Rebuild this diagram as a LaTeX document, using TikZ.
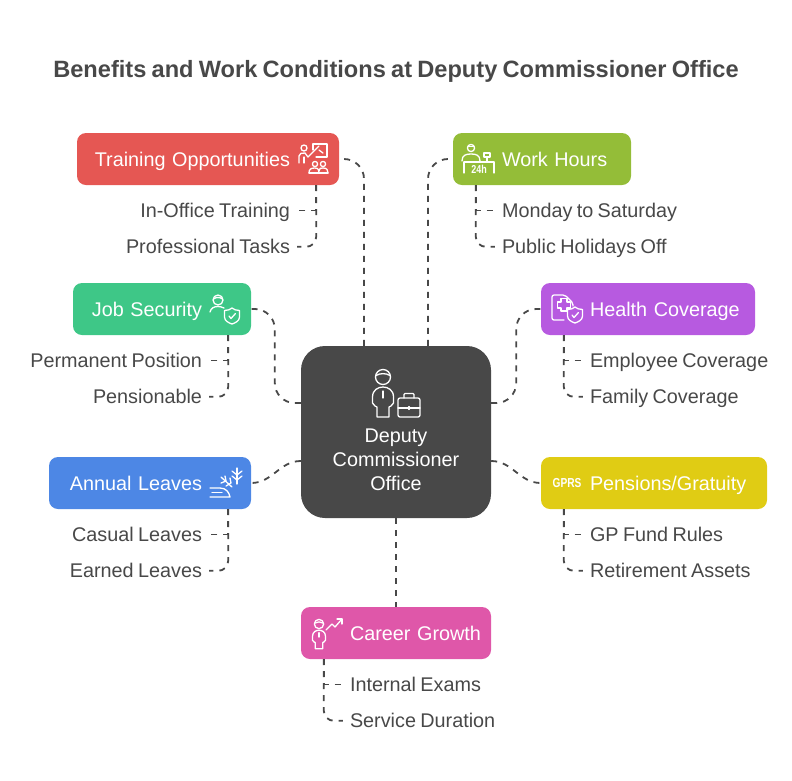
\documentclass[tikz,border=0pt]{standalone}
\usepackage{fontspec}
\setmainfont[WordSpace=0.8]{Liberation Sans}
\newfontfamily\iconfont[FakeStretch=0.78]{Liberation Sans}
\usetikzlibrary{positioning}

\definecolor{darkgrey}{HTML}{484848}
\definecolor{trainred}{HTML}{E55753}
\definecolor{hoursgreen}{HTML}{94BD38}
\definecolor{jobgreen}{HTML}{3EC787}
\definecolor{healthpurple}{HTML}{B75AE0}
\definecolor{leavesblue}{HTML}{4D87E5}
\definecolor{pensionyellow}{HTML}{E0CC14}
\definecolor{careerpink}{HTML}{DF57A9}

\tikzset{
  mainbox/.style={rounded corners=9pt, text=white, inner xsep=0pt, inner ysep=0pt, text width=#1,
    text height=17pt, text depth=3pt, minimum height=52pt, font=\fontsize{19.8}{24}\selectfont},
  leftbox/.style={mainbox=#1, align=right, execute at end node=\hspace*{49pt}},
  rightbox/.style={mainbox=#1, align=left, execute at begin node=\hspace*{49pt}},
  sublabel/.style={text=darkgrey, inner xsep=7pt, inner ysep=0pt, text height=17pt, text depth=3pt,
    font=\fontsize{19.8}{24}\selectfont},
  link/.style={draw=darkgrey, line width=1.8pt, dash pattern=on 6pt off 6pt},
  bend/.style={link, rounded corners=#1},
  icon/.style={draw=white, line width=1.3pt, line cap=round, line join=round},
  person/.pic={
    \draw[icon] (0,0) circle (7.5);
    \draw[icon] (-7,-1.5) .. controls (-3,-4) and (3,-4) .. (7,-1.5);
    \draw[icon] (-6,40) -- (-6,30) -- (-8,29) -- (-10.5,26) -- (-10.5,20) .. controls (-10.5,13) and (-5,10) .. (0,10)
      .. controls (5,10) and (10.5,13) .. (10.5,20) -- (10.5,26) -- (8,29) -- (6,30) -- (6,40) -- cycle;
    \draw[icon] (0,14) -- (0,21);
  },
  shield/.pic={
    \draw[icon] (0,-8) .. controls (-2,-6.5) and (-4,-5.5) .. (-7.5,-5.5) -- (-7.5,1) .. controls (-7.5,5) and (-3,7) .. (0,8)
      .. controls (3,7) and (7.5,5) .. (7.5,1) -- (7.5,-5.5) .. controls (4,-5.5) and (2,-6.5) .. (0,-8) -- cycle;
    \draw[icon] (-3,0) -- (-1,2.5) -- (3.5,-2.5);
  }
}

\begin{document}
\begin{tikzpicture}[x=1pt, y=-1pt]
\useasboundingbox (0,0) rectangle (792,780);

\node[text=darkgrey, font=\fontsize{23.6}{28}\selectfont\bfseries] (title) at (396,71) {Benefits and Work Conditions at Deputy Commissioner Office};

\node[fill=darkgrey, rounded corners=24pt, text=white, minimum width=190pt, minimum height=172pt, inner sep=0pt,
  align=center, font=\fontsize{19.8}{24}\selectfont] (office) at (396,432) {\rule{0pt}{69pt}Deputy\\Commissioner\\Office};

\node[leftbox=262pt, fill=trainred] (training) at (208,159) {Training Opportunities};
\node[rightbox=178pt, fill=hoursgreen] (workhours) at (542,159) {Work Hours};
\node[leftbox=178pt, fill=jobgreen] (jobsec) at (162,309) {Job Security};
\node[rightbox=214pt, fill=healthpurple] (health) at (648,309) {Health Coverage};
\node[leftbox=202pt, fill=leavesblue] (leaves) at (150,483) {Annual Leaves};
\node[rightbox=226pt, fill=pensionyellow] (pensions) at (654,483) {Pensions/Gratuity};
\node[rightbox=190pt, fill=careerpink] (career) at (396,633) {Career Growth};

\node[sublabel, below left=15pt and 42pt of training.south east] (inoffice) {In-Office Training};
\node[sublabel, below left=16pt and 0pt of inoffice.south east] (protasks) {Professional Tasks};
\node[sublabel, below right=15pt and 42pt of workhours.south west] (monsat) {Monday to Saturday};
\node[sublabel, below right=16pt and 0pt of monsat.south west] (holidays) {Public Holidays Off};
\node[sublabel, below left=15pt and 42pt of jobsec.south east] (permanent) {Permanent Position};
\node[sublabel, below left=16pt and 0pt of permanent.south east] (pensionable) {Pensionable};
\node[sublabel, below right=15pt and 42pt of health.south west] (employee) {Employee Coverage};
\node[sublabel, below right=16pt and 0pt of employee.south west] (family) {Family Coverage};
\node[sublabel, below left=15pt and 42pt of leaves.south east] (casual) {Casual Leaves};
\node[sublabel, below left=16pt and 0pt of casual.south east] (earned) {Earned Leaves};
\node[sublabel, below right=15pt and 42pt of pensions.south west] (gpfund) {GP Fund Rules};
\node[sublabel, below right=16pt and 0pt of gpfund.south west] (retirement) {Retirement Assets};
\node[sublabel, below right=15pt and 42pt of career.south west] (exams) {Internal Exams};
\node[sublabel, below right=16pt and 0pt of exams.south west] (service) {Service Duration};

\draw[bend=20pt] ([xshift=-32pt]office.north) |- (training.east);
\draw[bend=20pt] ([xshift=32pt]office.north) |- (workhours.west);
\draw[bend=20pt] ([yshift=29pt]office.west) -- ++(-26,0) |- (jobsec.east);
\draw[bend=20pt] ([yshift=29pt]office.east) -- ++(25,0) |- (health.west);
\draw[link] ([yshift=-29pt]office.west) to[out=180, in=0] (leaves.east);
\draw[link] ([yshift=-29pt]office.east) to[out=0, in=180] (pensions.west);
\draw[link] (office.south) -- (career.north);

\draw[link] ([xshift=-23pt]training.south east) |- (inoffice.east);
\draw[bend=10pt] ([xshift=-23pt]training.south east) |- (protasks.east);
\draw[link] ([xshift=23pt]workhours.south west) |- (monsat.west);
\draw[bend=10pt] ([xshift=23pt]workhours.south west) |- (holidays.west);
\draw[link] ([xshift=-23pt]jobsec.south east) |- (permanent.east);
\draw[bend=10pt] ([xshift=-23pt]jobsec.south east) |- (pensionable.east);
\draw[link] ([xshift=23pt]health.south west) |- (employee.west);
\draw[bend=10pt] ([xshift=23pt]health.south west) |- (family.west);
\draw[link] ([xshift=-23pt]leaves.south east) |- (casual.east);
\draw[bend=10pt] ([xshift=-23pt]leaves.south east) |- (earned.east);
\draw[link] ([xshift=23pt]pensions.south west) |- (gpfund.west);
\draw[bend=10pt] ([xshift=23pt]pensions.south west) |- (retirement.west);
\draw[link] ([xshift=23pt]career.south west) |- (exams.west);
\draw[bend=10pt] ([xshift=23pt]career.south west) |- (service.west);

% office icon
\pic at (383,377) {person};
\draw[icon, rounded corners=2pt] (398,398) rectangle (420,417);
\draw[icon, rounded corners=1pt] (404,398) -- (404,393.5) -- (414,393.5) -- (414,398);
\draw[icon] (398,408) -- (420,408);
\draw[icon] (409,406.5) -- (409,409.5);

% training icon
\draw[icon] (304,148) circle (3);
\draw[icon] (299,163) -- (299,156) .. controls (299,153) and (302,153) .. (305,153) -- (308,157) -- (319,146);
\draw[icon] (304,157) -- (304,163);
\draw[icon] (313,150) -- (313,144) -- (327,144) -- (327,157) -- (316,157);
\draw[icon] (319,150) -- (323,153);
\draw[icon] (315,164) circle (2.6);
\draw[icon] (323,164) circle (2.6);
\draw[icon] (309,173) .. controls (309,169) and (311,168) .. (315,168) .. controls (319,168) and (319,171) .. (319,173);
\draw[icon] (319,171) .. controls (319,168) and (321,168) .. (323,168) .. controls (327,168) and (328,170) .. (328,173);
\draw[icon] (309,173) -- (328,173);

% work hours icon
\draw[icon] (471,148) circle (3.6);
\draw[icon] (468,146.5) -- (474,146.5);
\draw[icon] (462,161) .. controls (462,155) and (466,154) .. (471,154) .. controls (476,154) and (480,155) .. (480,161);
\draw[icon] (484,153) rectangle (490,157);
\draw[icon] (487,157) -- (487,161);
\draw[icon] (464,162) -- (494,162);
\draw[icon] (464,162) -- (464,173);
\draw[icon] (494,162) -- (494,173);
\node[text=white, inner sep=0pt, font=\iconfont\fontsize{11.5}{12}\selectfont\bfseries] (hourstag) at (479,169) {24h};

% job security icon
\draw[icon] (218,300) circle (5);
\draw[icon] (213.5,299) .. controls (216,297) and (220,297) .. (222.5,299);
\draw[icon] (210,312) .. controls (211,308) and (214,306.5) .. (218,306.5) .. controls (220,306.5) and (222,307) .. (224,308);
\pic at (232,316) {shield};

% health icon
\draw[icon, rounded corners=2pt] (564,320) -- (552,320) -- (552,295) -- (565,295) -- (573,303) -- (573,306);
\draw[icon] (561,298.5) -- (567,298.5) -- (567,302) -- (570.5,302) -- (570.5,308) -- (567,308) -- (567,311) -- (561,311)
  -- (561,308) -- (557.5,308) -- (557.5,302) -- (561,302) -- cycle;
\pic at (575,315) {shield};

% leaves icon
\draw[icon] (210,488) -- (220,488) .. controls (226,488) and (229,492) .. (230,497) -- (210,497);
\draw[icon] (212,492.5) -- (222,492.5);
\draw[icon] (221,477) -- (232,487);
\draw[icon] (221,483) -- (226,481) -- (225,476);
\draw[icon] (226,486) -- (231,483) -- (230,478);
\draw[icon] (237,468) -- (237,484);
\draw[icon] (232,471) -- (237,475) -- (242,471);
\draw[icon] (232,476) -- (237,480) -- (242,476);

% pensions icon
\node[text=white, inner sep=0pt, font=\iconfont\fontsize{13}{14}\selectfont\bfseries] (gprstag) at (567,483) {GPRS};

% career icon
\pic[scale=0.62] at (319,624) {person};
\draw[icon] (326,630) -- (332,624) -- (335,627) -- (342,619);
\draw[icon] (337,619) -- (342,619) -- (342,624);
\end{tikzpicture}
\end{document}
